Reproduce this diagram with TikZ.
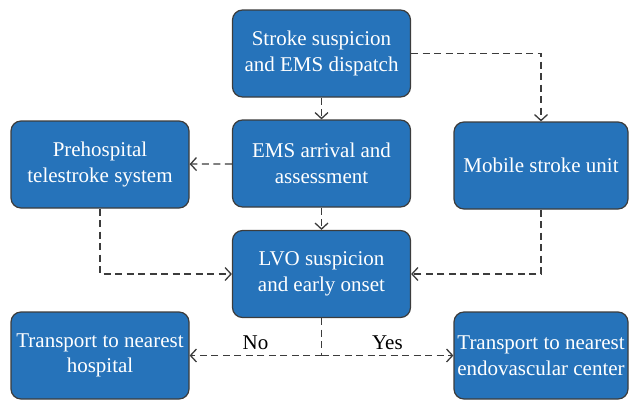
\documentclass[tikz,border=0pt]{standalone}
\usepackage{fontspec}
\setmainfont{Liberation Serif}
\usetikzlibrary{arrows.meta, positioning}

\definecolor{boxblue}{RGB}{38,115,186}
\definecolor{linegray}{RGB}{60,60,60}

\begin{document}
\begin{tikzpicture}[x=1pt, y=-1pt,
	            every node/.style={
	            font=\fontsize{21}{25.5}\selectfont,
	            },
	            stepbox/.style={
	            draw=linegray,
	            fill=boxblue,
	            text=white,
	            rounded corners=10pt,
	            align=center,
	            inner sep=0pt,
	            minimum width=178pt,
	            minimum height=87pt,
	            line width=1.2pt,
	            },
	            flow/.style={
	            draw=linegray,
	            dash pattern=on 7pt off 4.5pt,
	            line width=1.3pt,
	            -{Straight Barb[length=6pt,width=13pt]},
	            }]

	        \clip (0,0) rectangle (629,400);

	        \node[stepbox] (dispatch) at (321.5,53.5) {Stroke suspicion\\and EMS dispatch};
	        \node[stepbox] (arrival) at (321.5,163.5) {EMS arrival and\\assessment};
	        \node[stepbox] (tele) at (100,164.5) {Prehospital\\telestroke system};
	        \node[stepbox, minimum width=174pt] (msu) at (541,165.5) {Mobile stroke unit};
	        \node[stepbox] (lvo) at (321.5,274) {LVO suspicion\\and early onset};
	        \node[stepbox] (nearhosp) at (100,355.5) {Transport to nearest\\hospital};
	        \node[stepbox, minimum width=174pt] (evc) at (541,355.5) {Transport to nearest\\endovascular center};

	        \coordinate (split) at (lvo.south |- nearhosp.east);

	        \draw[flow] (dispatch) -- (arrival);
	        \draw[flow] (dispatch.east) -| (msu.north);
	        \draw[flow] (arrival) -- (tele);
	        \draw[flow] (arrival) -- (lvo);
	        \draw[flow] (tele.south) |- (lvo.west);
	        \draw[flow] (msu.south) |- (lvo.east);

	        \draw[draw=linegray, dash pattern=on 7pt off 4.5pt, line width=1.3pt] (lvo.south) -- (split);
	        \draw[flow] (split) -- node[above=2pt, text=black] {No} (nearhosp.east);
	        \draw[flow] (split) -- node[above=2pt, text=black] {Yes} (evc.west);

	    \end{tikzpicture}
\end{document}
